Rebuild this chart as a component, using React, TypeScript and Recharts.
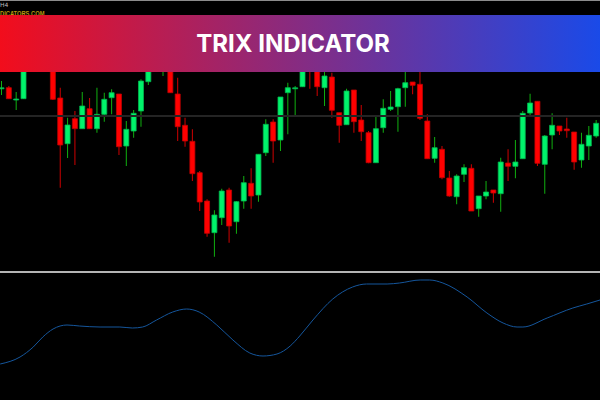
import { ComposedChart, Bar, Cell, XAxis, YAxis, ReferenceLine, LineChart, Line } from 'recharts'

// candle prices, one entry per bar (left to right)
const opens = [
	211.2, 212.3, 200, 201.3, 236, 252, 244, 262, 202, 156.3, 181.3, 171.3, 191.3, 171.3, 185.7, 202.3, 206, 154, 169, 189,
	218.3, 240, 238, 250, 206, 174.7, 158.7, 127.3, 99, 67.3, 82.3, 110, 78.3, 99, 116.7, 105, 147.3, 178, 160, 207.3,
	211.2, 213.3, 246, 234, 212.3, 223, 187.3, 175.3, 210, 180, 167.3, 137.3, 172.3, 190.7, 193.3, 212.3, 218, 215.7, 179, 141.7,
	150.7, 122, 103.3, 125.7, 131.7, 91.3, 104, 110, 106.3, 137, 133.7, 141.3, 187, 198.7, 135.7, 165, 174, 171, 168, 140,
	154, 164,
]
const highs = [
	219, 214, 208, 242, 256, 258, 268, 265, 212.3, 182.3, 189, 208, 202, 212.3, 207.3, 210.7, 206, 179, 190, 220.7,
	246, 258, 255, 254, 222.3, 182.3, 170.7, 129, 100.7, 89.7, 111.3, 112.3, 99, 124, 131.7, 145.7, 180.7, 180.7, 203, 217.3,
	214, 246, 250, 240, 232, 227.3, 187.3, 211.3, 210, 195, 169, 184, 200.7, 209, 212.3, 232, 218, 238, 185.7, 163,
	154, 129, 125.7, 135.7, 135.7, 104, 119, 110, 142.3, 150.7, 160, 189, 206.3, 198.7, 165, 186.7, 174, 182.3, 168, 167.3,
	174, 180,
]
const lows = [
	205, 201, 190, 201, 233, 240, 240, 200, 112.3, 142, 135, 171.3, 171.3, 167.3, 178.3, 185.7, 145, 134, 162.3, 173.3,
	215, 236, 224, 207.3, 159, 153.3, 119, 89, 63.3, 43.3, 75, 57.3, 66.3, 91.3, 91.3, 98.3, 144, 137.3, 149, 165.7,
	185, 213, 211.3, 204, 194, 182.3, 157.3, 175.3, 167.3, 159, 136.7, 137.3, 167.3, 189, 168.3, 193.3, 205.7, 180, 141.3, 137.3,
	120.7, 103.3, 95.7, 118, 89, 83.3, 100.7, 97.3, 88.3, 119, 121.7, 141.3, 184.7, 134, 106.3, 150.7, 165, 162.3, 130.3, 132.3,
	140, 162.3,
]
const closes = [
	212.2, 201.3, 201, 238, 252, 244, 262, 200.7, 155, 175, 171.3, 194, 171.3, 185.7, 200.7, 207.3, 153.3, 170.7, 186.7, 219,
	240, 252, 250, 207.3, 173.3, 159, 126.3, 98, 66.7, 85, 109, 74, 98.3, 117.3, 104, 145.7, 175.7, 159, 203, 212.3,
	212.2, 240, 236, 213.3, 224, 189.7, 174.7, 209, 178.3, 168.3, 137.3, 171.3, 191.7, 193, 211.3, 217.3, 214.7, 181.7, 141.3, 152.3,
	122.3, 104, 124, 132.3, 89, 104, 108, 107, 138, 133.7, 138, 186.7, 197, 136.7, 164, 174.7, 169, 169.3, 138, 155.7,
	164.7, 176.7,
]

const levelLine = 184

// TRIX line, sampled at bar positions
const trixBar = [
	-0.2, 2.5, 4.3, 5.6, 7, 8.9, 10.6, 13.4, 16.1, 17.8, 19.2, 21.1, 23.3, 25.2, 26.9, 29.3, 31.5, 33.8, 35.6, 37.5,
	39.3, 40.6, 42.4, 45.1, 47.8, 49.7, 52.5, 54.2, 57, 58.3, 60.1, 63.4, 66.1, 68.3, 70.2, 71, 74.3, 77.8, 79.7, 81.5,
]
const trixValue = [
	-0.044, -0.037, -0.027, -0.017, -0.009, -0.005, -0.006, -0.007, -0.007, -0.008, -0.007, 0.0, 0.008, 0.011, 0.008, -0.005,
	-0.02, -0.033, -0.036, -0.034, -0.026, -0.016, 0.0, 0.021, 0.033, 0.036, 0.036, 0.037, 0.04, 0.04, 0.037, 0.023, 0.007,
	-0.003, -0.007, -0.007, 0.002, 0.012, 0.016, 0.02,
]

const candles = opens.map((o, i) => ({
	i,
	open: o,
	high: highs[i],
	low: lows[i],
	close: closes[i],
}))

const trixData = trixBar.map((x, k) => ({ x, v: trixValue[k] }))

const UP = '#00f36b'
const DOWN = '#ff0000'

export default function App() {
	return (
		<div
			style={{
				position: 'fixed',
				left: 0,
				top: 0,
				width: 600,
				height: 400,
				background: '#000',
				overflow: 'hidden',
			}}
		>
			<div style={{ position: 'absolute', left: -2, top: 0 }}>
				<ComposedChart width={602} height={270} data={candles} margin={{ top: 0, right: 0, bottom: 0, left: 0 }}>
					<XAxis xAxisId='wick' dataKey='i' hide />
					<XAxis xAxisId='body' dataKey='i' hide />
					<YAxis hide domain={[30, 300]} />
					<ReferenceLine xAxisId='wick' y={levelLine} stroke='#242424' strokeWidth={2} />
					<Bar
						xAxisId='wick'
						dataKey={(d: any) => [d.low, d.high]}
						barSize={1}
						isAnimationActive={false}
					>
						{candles.map((d) => (
							<Cell key={d.i} fill={d.close >= d.open ? '#10b010' : '#d00000'} />
						))}
					</Bar>
					<Bar
						xAxisId='body'
						dataKey={(d: any) => [Math.min(d.open, d.close), Math.max(d.open, d.close)]}
						barSize={5}
						isAnimationActive={false}
					>
						{candles.map((d) => (
							<Cell
								key={d.i}
								fill={d.close >= d.open ? UP : DOWN}
								stroke={d.close >= d.open ? '#00b84e' : '#c00000'}
								strokeWidth={0.8}
							/>
						))}
					</Bar>
				</ComposedChart>
			</div>

			<div style={{ position: 'absolute', left: 0, top: 0, width: 600, height: 1, background: '#8c8c8c' }} />
			<div
				style={{
					position: 'absolute',
					left: 0,
					top: 1,
					fontFamily: 'DejaVu Sans, sans-serif',
					fontSize: 6,
					color: '#bdbdbd',
					lineHeight: '8px',
				}}
			>
				H4
			</div>
			<div
				style={{
					position: 'absolute',
					left: 0,
					top: 10,
					fontFamily: 'Liberation Sans, sans-serif',
					fontWeight: 700,
					fontSize: 7,
					color: '#b8960c',
					lineHeight: '8px',
					transform: 'scaleX(0.82)',
					transformOrigin: 'left center',
				}}
			>
				DICATORS.COM
			</div>

			<div
				style={{
					position: 'absolute',
					left: 0,
					top: 15,
					width: 600,
					height: 57,
					background: 'linear-gradient(to right, #f20d1c, #1a4ae8)',
					display: 'flex',
					alignItems: 'center',
					justifyContent: 'center',
					paddingRight: 14,
					boxSizing: 'border-box',
				}}
			>
				<span
					style={{
						fontFamily: 'Inter, sans-serif',
						fontWeight: 700,
						fontSize: 24,
						color: '#fff',
						letterSpacing: 0,
					}}
				>
					TRIX INDICATOR
				</span>
			</div>

			<div style={{ position: 'absolute', left: 0, top: 271, width: 600, height: 2, background: '#b4b4b4' }} />

			<div style={{ position: 'absolute', left: -2, top: 273 }}>
				<LineChart width={602} height={127} data={trixData} margin={{ top: 0, right: 0, bottom: 0, left: 0 }}>
					<XAxis type='number' dataKey='x' domain={[-0.5, 81.5]} hide allowDataOverflow />
					<YAxis hide domain={[-0.08, 0.047]} />
					<Line
						type='monotone'
						dataKey='v'
						stroke='#15569c'
						strokeWidth={1}
						dot={false}
						isAnimationActive={false}
					/>
				</LineChart>
			</div>
		</div>
	)
}
